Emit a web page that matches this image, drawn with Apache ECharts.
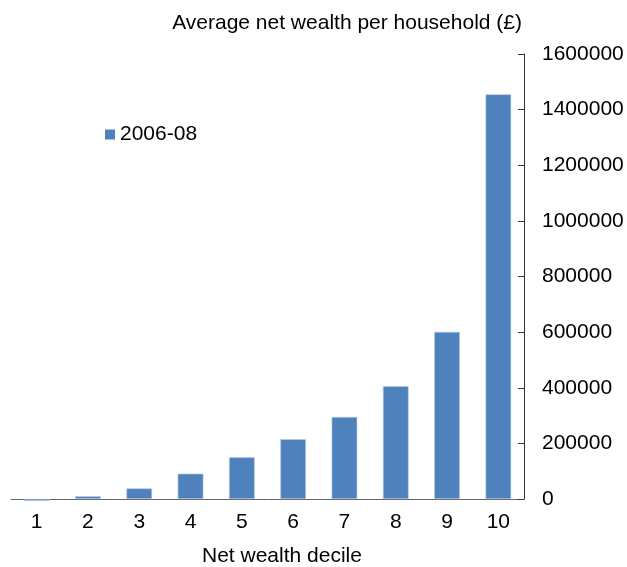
<!DOCTYPE html>
<html>
<head>
<meta charset="utf-8">
<script src="https://cdn.jsdelivr.net/npm/echarts@6/dist/echarts.min.js"></script>
<style>html,body{margin:0;padding:0;background:#fff}#c{width:627px;height:567px}</style>
</head>
<body>
<div id="c"></div>
<script>
const deciles = ['1','2','3','4','5','6','7','8','9','10'];
const wealth2006 = [-7000, 10000, 38000, 91000, 150000, 215000, 295000, 406000, 601000, 1455000];
const seriesName = '2006-08';
const yTitle = 'Average net wealth per household (£)';
const xTitle = 'Net wealth decile';

const chart = echarts.init(document.getElementById('c'));
const font = 'Liberation Sans, Arial, sans-serif';
chart.setOption({
  animation: false,
  textStyle: {fontFamily: font},
  grid: {left: 11, right: 103, top: 54, bottom: 68},
  title: {text: yTitle, right: 100, top: 8,
    textStyle: {fontFamily: font, fontSize: 21, fontWeight: 'normal', color: '#000'}},
  legend: {data: [seriesName], left: 100, top: 119, itemWidth: 10, itemHeight: 10,
    icon: 'rect', itemStyle: {borderWidth: 0},
    textStyle: {fontFamily: font, fontSize: 21, color: '#000'}},
  graphic: [{type: 'text', left: 202, top: 546, style: {text: xTitle, font: '21px ' + font, fill: '#000'}}],
  xAxis: {type: 'category', data: deciles,
    axisLine: {lineStyle: {color: '#666', width: 1}},
    axisTick: {inside: true, length: 6, lineStyle: {color: '#333'}},
    axisLabel: {fontSize: 21, color: '#000', margin: 13}},
  yAxis: {type: 'value', position: 'right', min: 0, max: 1600000, interval: 200000,
    splitLine: {show: false},
    axisLine: {show: true, lineStyle: {color: '#333'}},
    axisTick: {show: true, inside: true, length: 6, lineStyle: {color: '#333'}},
    axisLabel: {fontSize: 21, color: '#000', margin: 18, formatter: v => String(v)}},
  series: [{name: seriesName, type: 'bar', data: wealth2006, barWidth: '50%', clip: false,
    itemStyle: {color: '#4F81BD', borderColor: '#b9cde5', borderWidth: 0.6}}]
});
</script>
</body>
</html>
